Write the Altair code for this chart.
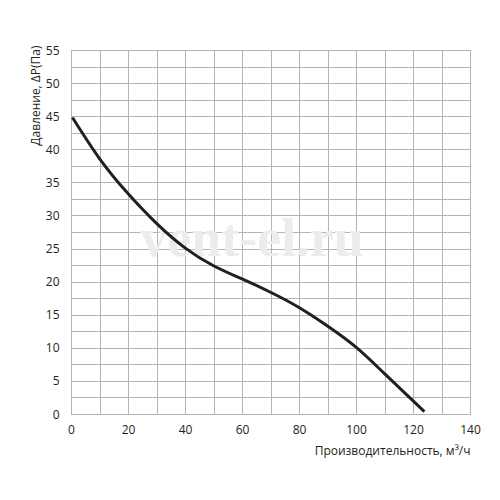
import altair as alt
import pandas as pd

flow = [0.5, 10, 20, 30, 40, 50, 60, 70, 80, 90, 100, 110, 124]
pressure = [44.8, 38.6, 33.3, 28.8, 25.1, 22.4, 20.4, 18.4, 16.1, 13.3, 10.1, 6.1, 0.35]

x_ticks = list(range(0, 141, 10))
y_ticks = [i * 2.5 for i in range(0, 23)]

wm_text = ["vent-el.ru"]
wm_x = [63.5]
wm_y = [26.3]

df = pd.DataFrame({"x": flow, "y": pressure})
wm = pd.DataFrame({"t": wm_text, "x": wm_x, "y": wm_y})

FONT = "Open Sans"

xscale = alt.Scale(domain=[0, 140], nice=False, zero=False)
yscale = alt.Scale(domain=[0, 55], nice=False, zero=False)

common = dict(
    titleFontWeight="normal",
    titleFontSize=12,
    titleFont=FONT,
    titleColor="#231f20",
    labelFont=FONT,
    labelFontSize=12,
    labelColor="#231f20",
    ticks=False,
    tickSize=0,
    domain=False,
    grid=True,
    gridColor="#b4b4b4",
    gridWidth=1,
    gridOpacity=1,
    labelFlush=False,
    labelOverlap=False,
)

xaxis = alt.Axis(
    values=x_ticks,
    labelExpr="datum.value % 20 == 0 ? datum.label : ''",
    title="Производительность, м³/ч",
    titleX=399,
    titleY=36,
    titleAlign="right",
    titleBaseline="middle",
    labelPadding=10,
    **common,
)
yaxis = alt.Axis(
    values=y_ticks,
    labelExpr="datum.value % 5 == 0 ? datum.label : ''",
    title="Давление, ΔP(Па)",
    titleX=-36,
    titleY=-5,
    titleAngle=270,
    titleAlign="right",
    titleBaseline="middle",
    labelPadding=12,
    **common,
)

watermark = alt.Chart(wm).mark_text(
    font="Liberation Serif", fontWeight="bold", fontSize=54, color="#ececec"
).encode(
    x=alt.X("x:Q", scale=xscale, axis=xaxis),
    y=alt.Y("y:Q", scale=yscale, axis=yaxis),
    text="t:N",
)

line = alt.Chart(df).mark_line(
    color="#231f20", strokeWidth=3, interpolate="natural"
).encode(
    x=alt.X("x:Q", scale=xscale, axis=xaxis),
    y=alt.Y("y:Q", scale=yscale, axis=yaxis),
)

chart = alt.layer(watermark, line).properties(
    width=399,
    height=364,
    autosize=alt.AutoSizeParams(type="none"),
    padding={"left": 63, "top": 42, "right": 20, "bottom": 60},
    background="white",
).configure_view(stroke="#999999", strokeWidth=1)

chart.save("out.html", embed_options={"renderer": "svg", "actions": False})
